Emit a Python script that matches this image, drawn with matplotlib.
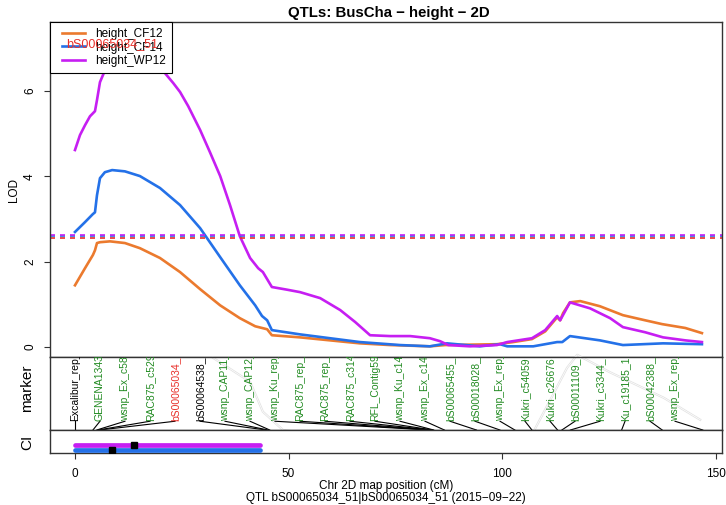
import numpy as np
import matplotlib
matplotlib.use("Agg")
import matplotlib.pyplot as plt
import matplotlib.patheffects as pe
from matplotlib.lines import Line2D
from matplotlib.legend_handler import HandlerLine2D

plt.rcParams['font.family'] = ['Liberation Sans', 'DejaVu Sans']

# ---------------- data ----------------
series_names = ["height_CF12", "height_CF14", "height_WP12"]
series_colors = ["#EB7A2E", "#2471E8", "#C61EF2"]

cf12_pos = [0, 2.34, 4.2, 4.68, 5.15, 5.85, 8.2, 11.7, 15.2, 19.9, 24.6, 29.3, 34.0, 38.6,
            42.2, 43.8, 45.0, 46.1, 52.7, 59.7, 66.7, 73.8, 83.1, 86.7, 98.8, 102.6, 107.0,
            110.1, 112.9, 113.6, 114.3, 115.9, 118.3, 122.9, 128.3, 133.5, 137.5, 142.9, 146.8]
cf12_lod = [1.45, 1.85, 2.16, 2.27, 2.44, 2.46, 2.48, 2.44, 2.32, 2.09, 1.76, 1.36, 0.98, 0.68,
            0.49, 0.45, 0.42, 0.28, 0.23, 0.16, 0.09, 0.05, 0.02, 0.05, 0.07, 0.12, 0.19,
            0.37, 0.70, 0.63, 0.80, 1.05, 1.08, 0.96, 0.75, 0.63, 0.54, 0.45, 0.33]

cf14_pos = [0, 2.34, 4.2, 4.68, 5.15, 5.85, 7.0, 8.7, 11.7, 15.2, 19.9, 24.6, 29.3, 34.0, 38.6,
            42.2, 43.8, 45.0, 46.1, 52.7, 59.7, 66.7, 76.1, 83.1, 87.1, 94.8, 99.5, 101.2, 107.3,
            112.9, 114.1, 115.9, 122.9, 128.3, 137.7, 146.8]
cf14_lod = [2.70, 2.93, 3.12, 3.16, 3.56, 3.96, 4.10, 4.15, 4.12, 4.01, 3.73, 3.33, 2.79, 2.11, 1.45,
            0.98, 0.73, 0.63, 0.40, 0.30, 0.21, 0.12, 0.05, 0.02, 0.09, 0.02, 0.07, 0.02, 0.02,
            0.12, 0.12, 0.26, 0.16, 0.05, 0.09, 0.07]

wp12_pos = [0, 1.17, 2.34, 3.51, 4.68, 5.15, 5.85, 7.03, 8.2, 10.0, 13.8, 17.0, 20.0, 21.5, 23.0,
            24.6, 26.5, 29.3, 31.6, 34.0, 36.3, 38.6, 41.0, 42.9, 44.0, 46.1, 49.5, 52.7, 57.4,
            62.1, 65.6, 69.1, 73.8, 78.5, 83.1, 85.5, 87.4, 92.5, 98.8, 101.2, 107.0, 110.1,
            112.9, 113.6, 115.9, 120.6, 125.3, 128.3, 133.5, 137.7, 142.9, 146.8]
wp12_lod = [4.62, 4.97, 5.20, 5.41, 5.53, 5.79, 6.21, 6.49, 6.65, 6.80, 6.92, 6.82, 6.55, 6.37, 6.19,
            5.98, 5.65, 5.09, 4.57, 4.01, 3.33, 2.60, 2.09, 1.85, 1.76, 1.41, 1.35, 1.29, 1.15,
            0.87, 0.59, 0.28, 0.26, 0.26, 0.21, 0.14, 0.05, 0.02, 0.05, 0.12, 0.21, 0.40,
            0.73, 0.63, 1.05, 0.91, 0.68, 0.47, 0.35, 0.23, 0.16, 0.12]

thresholds = [2.57, 2.61, 2.64]
threshold_colors = ["#E8302A", "#2471E8", "#C61EF2"]

marker_names = ["Excalibur_rep_", "GENENA1343", "wsnp_Ex_c58", "RAC875_c529", "bS00065034_",
                "bS00064538_", "wsnp_CAP11_", "wsnp_CAP12_", "wsnp_Ku_rep_", "RAC875_rep_",
                "RAC875_rep_", "RAC875_c314", "RFL_Contig59", "wsnp_Ku_c14", "wsnp_Ex_c14",
                "bS00065455_", "bS00018028_", "wsnp_Ex_rep_", "Kukri_c54059", "Kukri_c26676",
                "bS00011109_", "Kukri_c3344_", "Ku_c19185_1", "bS00042388_", "wsnp_Ex_rep_"]
marker_pos = [0, 4.2, 5.1, 5.4, 5.8, 44.8, 45.2, 45.6, 83.0, 83.2, 83.4, 83.6, 83.8, 84.0,
              86.5, 94.0, 99.5, 103.0, 107.0, 113.0, 114.0, 116.0, 128.0, 137.5, 147.0]
marker_kind = ["k", "g", "g", "g", "r", "k", "g", "g", "g", "g", "g", "g", "g", "g", "g",
               "g", "g", "g", "g", "g", "g", "g", "g", "g", "g"]

# faint grey trace in the marker / CI panels (cM, panel height fraction)
trace_pos = [32.3, 41.0, 44.0, 48.7, 59.0, 76.1, 87.8, 99.5, 107.3, 111.9, 115.2, 117.6, 125.3, 137.9, 146.4]
trace_val = [0.99, 0.66, 0.25, 0.0, -0.08, -0.03, -0.14, -0.22, -0.03, 0.48, 0.85, 1.03, 0.79, 0.44, 0.14]

ci_series = ["height_CF14", "height_WP12"]
ci_lo = [0.0, 0.0]
ci_hi = [43.3, 43.3]
ci_peak = [8.7, 13.8]
ci_colors = ["#2471E8", "#C61EF2"]
ci_rows = [0.15, 0.33]

peak_label = "bS00065034_51"
peak_label_pos = 8.7

title = "QTLs: BusCha \u2212 height \u2212 2D"
xlabel = "Chr 2D map position (cM)"
subtitle = "QTL bS00065034_51|bS00065034_51 (2015\u221209\u221222)"

# ---------------- figure ----------------
W, H = 726, 505
fig = plt.figure(figsize=(W / 100, H / 100), dpi=100)


def fr(l, t, r, b):
    return [l / W, 1 - b / H, (r - l) / W, (b - t) / H]


ax = fig.add_axes(fr(50, 22, 722, 357))
axm = fig.add_axes(fr(50, 357, 722, 430), sharex=ax)
axc = fig.add_axes(fr(50, 430, 722, 453), sharex=ax)

ax.set_xlim(-5.85, 151.5)
ax.set_ylim(-0.23, 7.62)

spine_col = "#333333"
for a in (ax, axm, axc):
    for s in a.spines.values():
        s.set_color(spine_col)
        s.set_linewidth(1.0)

# LOD curves
for pos, lod, name, col in zip([cf12_pos, cf14_pos, wp12_pos], [cf12_lod, cf14_lod, wp12_lod],
                               series_names, series_colors):
    ax.plot(pos, lod, color=col, lw=1.9, label=name, solid_joinstyle="round")

for t, c in zip(thresholds, threshold_colors):
    ax.axhline(t, color=c, lw=1.2, ls=(0, (3, 3)))

ax.set_yticks([0, 2, 4, 6])
ax.set_yticklabels(["0", "2", "4", "6"], rotation=90, va="center", fontsize=8.5)
ax.tick_params(axis="y", length=4, width=0.8, pad=6, color=spine_col)
ax.tick_params(axis="x", bottom=False, labelbottom=False)

leg = ax.legend(loc="upper left", borderaxespad=0, fontsize=8.5, frameon=True, fancybox=False,
                edgecolor="black", framealpha=1, handlelength=2.5, handletextpad=0.8,
                labelspacing=0.14, borderpad=0.5,
                handler_map={Line2D: HandlerLine2D(xpad=0.5)})
leg.get_frame().set_linewidth(0.8)
leg.set_zorder(5)

ax.text(peak_label_pos, 7.10, peak_label, color="#E8302A", fontsize=9, ha="center",
        va="center", zorder=10)

# marker panel
axm.set_ylim(0, 1)
axm.set_yticks([])
axm.tick_params(axis="x", bottom=False, labelbottom=False)
label_x = np.linspace(0, 140.5, len(marker_names))
kind_col = {"k": "black", "g": "#228B22", "r": "#E8302A"}
for name, mp, lx, k in zip(marker_names, marker_pos, label_x, marker_kind):
    axm.plot([mp, lx], [0, 0.12], color="black", lw=0.8)
    axm.text(lx, 0.13, name, rotation=90, ha="center", va="bottom", fontsize=7.5,
             color=kind_col[k], clip_on=True)

axm.plot(trace_pos, trace_val, color="white", lw=0.5, clip_on=False, zorder=1,
         path_effects=[pe.Stroke(linewidth=1.6, foreground="#e2e2e2"), pe.Normal()])

# CI panel
axc.set_ylim(0, 1)
axc.set_yticks([])
for lo, hi, pk, col, row in zip(ci_lo, ci_hi, ci_peak, ci_colors, ci_rows):
    axc.plot([lo, hi], [row, row], color=col, lw=3.4, solid_capstyle="round", zorder=3)
    axc.plot([pk], [row], marker="s", color="black", ms=4.2, zorder=4)

axc.set_xticks([0, 50, 100, 150])
axc.set_xticklabels(["0", "50", "100", "150"], fontsize=8.5)
axc.tick_params(axis="x", length=4.5, width=0.8, pad=6, color=spine_col)

# labels
fig.text(389 / W, 1 - 13 / H, title, ha="center", va="center", fontsize=10.8, fontweight="bold")
fig.text(14 / W, 1 - 190 / H, "LOD", rotation=90, ha="center", va="center", fontsize=8.5)
fig.text(27 / W, 1 - 388 / H, "marker", rotation=90, ha="center", va="center", fontsize=11)
fig.text(27 / W, 1 - 442 / H, "CI", rotation=90, ha="center", va="center", fontsize=11)
fig.text(386 / W, 1 - 486 / H, xlabel, ha="center", va="center", fontsize=8.5)
fig.text(386 / W, 1 - 497.5 / H, subtitle, ha="center", va="center", fontsize=8.5)

fig.savefig("out.png", dpi=100)
